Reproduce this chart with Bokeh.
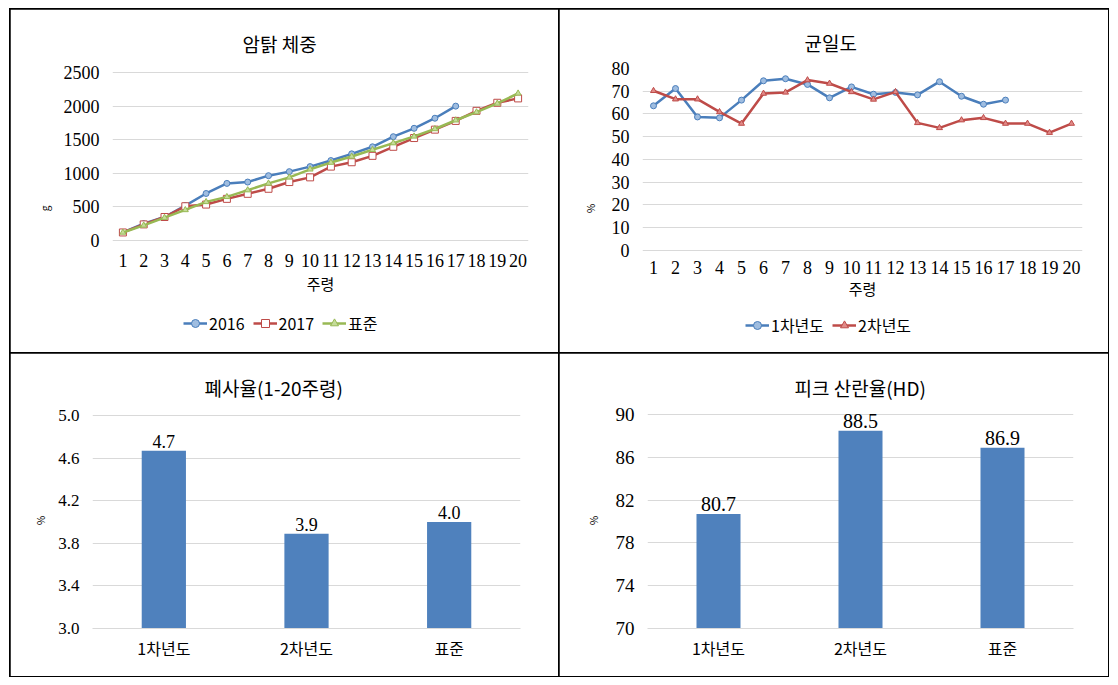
from bokeh.plotting import figure
from bokeh.models import (Range1d, FactorRange, FixedTicker, Legend, LegendItem, Label,
                          ColumnDataSource, LabelSet, NumeralTickFormatter, Spacer)
from bokeh.layouts import row, column
from bokeh.embed import file_html
from bokeh.resources import INLINE

# ---------------- data ----------------
weeks = [1, 2, 3, 4, 5, 6, 7, 8, 9, 10,
         11, 12, 13, 14, 15, 16, 17, 18, 19, 20]

bw_2016 = [120, 250, 350, 520, 700, 850, 870, 965, 1025, 1100,
           1190, 1290, 1395, 1545, 1670, 1820, 2000]
bw_2017 = [120, 240, 350, 510, 535, 620, 695, 770, 870, 940,
           1100, 1165, 1260, 1395, 1525, 1650, 1780, 1930, 2050, 2115]
bw_std = [120, 225, 340, 455, 575, 650, 750, 850, 940, 1060,
          1160, 1250, 1350, 1450, 1550, 1660, 1790, 1910, 2040, 2190]

unif_y1 = [63.6, 71.2, 58.7, 58.3, 66.1, 74.6, 75.5, 73.0, 67.1, 71.9,
           68.7, 69.5, 68.4, 74.2, 67.8, 64.3, 66.1]
unif_y2 = [70.2, 66.5, 66.5, 60.9, 55.8, 69.0, 69.5, 74.9, 73.4, 69.7,
           66.4, 69.7, 56.1, 53.9, 57.3, 58.3, 55.8, 55.8, 51.8, 55.8]

bar_cats = ["1차년도", "2차년도", "표준"]
mortality = [4.67, 3.89, 4.00]
peak_lay = [80.7, 88.5, 86.9]

bw_ticks = [0, 500, 1000, 1500, 2000, 2500]
unif_ticks = [0, 10, 20, 30, 40, 50, 60, 70, 80]
mort_ticks = [3.0, 3.4, 3.8, 4.2, 4.6, 5.0]
peak_ticks = [70, 74, 78, 82, 86, 90]

# ---------------- style ----------------
NUM = "Liberation Serif"
KR = "Noto Sans CJK KR"
BLUE = "#4a7ebb"
RED = "#be4b48"
GREEN = "#98b954"
GRID = "#d9d9d9"
CELL = {"outline": "2px solid black", "outline-offset": "-1px"}


def base(w, h, left, right, top, bottom, x_range, y_range, title, t_off, t_stand,
         x_axis=True):
    p = figure(width=w, height=h, x_range=x_range, y_range=y_range,
               output_backend="svg", toolbar_location=None,
               x_axis_location="below" if x_axis else None,
               min_border_left=left, min_border_right=right,
               min_border_top=top, min_border_bottom=bottom)
    p.styles = CELL
    p.outline_line_color = None
    p.title.text = title
    p.title.align = "left"
    p.title.offset = t_off
    p.title.standoff = t_stand
    p.title.text_font = KR
    p.title.text_font_size = "19px"
    p.title.text_font_style = "normal"
    p.title.text_color = "black"
    p.xgrid.grid_line_color = None
    p.ygrid.grid_line_color = GRID
    p.yaxis.axis_line_color = None
    p.yaxis.major_tick_line_color = None
    p.yaxis.minor_tick_line_color = None
    p.yaxis.major_label_text_font = NUM
    p.yaxis.major_label_text_color = "black"
    p.yaxis.axis_label_text_font = KR
    p.yaxis.axis_label_text_font_style = "normal"
    p.yaxis.axis_label_text_color = "black"
    p.yaxis.axis_label_text_font_size = "10px"
    p.yaxis.major_label_standoff = 7
    if x_axis:
        p.xaxis.axis_line_color = GRID
        p.xaxis.major_tick_line_color = None
        p.xaxis.minor_tick_line_color = None
        p.xaxis.major_label_text_font = KR
        p.xaxis.major_label_text_color = "black"
    return p


def week_labels(p, label_off, title_off):
    src = ColumnDataSource(dict(x=weeks, y=[0] * len(weeks),
                                lab=[str(w) for w in weeks]))
    p.add_layout(LabelSet(x="x", y="y", text="lab", source=src,
                          text_align="center", text_baseline="middle",
                          y_offset=label_off, text_font=NUM,
                          text_font_size="18px", text_color="black"))
    p.add_layout(Label(x=(weeks[0] + weeks[-1]) / 2, y=0, y_offset=title_off,
                       text="주령", text_align="center", text_baseline="middle",
                       text_font=KR, text_font_size="15px", text_color="black"))


def add_legend(p, items, x_off, y_off):
    leg = Legend(items=items, orientation="horizontal", location=(x_off, y_off),
                 label_text_font=KR, label_text_font_size="16px",
                 label_text_color="black",
                 glyph_width=24, label_standoff=2, spacing=8,
                 border_line_color=None, background_fill_alpha=0,
                 margin=0, padding=2)
    p.add_layout(leg)


# ---------- chart 1: body weight ----------
p1 = base(549, 344, 102, 31, 59, 5,
          Range1d(weeks[0] - 0.5, weeks[-1] + 0.5), Range1d(-1607, 2560),
          "암탉 체중", 130, 24, x_axis=False)
p1.yaxis.ticker = FixedTicker(ticks=bw_ticks)
p1.yaxis.major_label_text_font_size = "18px"
p1.yaxis.axis_label = "g"
p1.yaxis.axis_label_standoff = 9
week_labels(p1, -20, -43)

x16 = weeks[:len(bw_2016)]
l_a = p1.line(x16, bw_2016, line_color=BLUE, line_width=2.5)
m_a = p1.scatter(x16, bw_2016, marker="circle", size=6,
                 line_color=BLUE, fill_color="#9fbde0", line_width=1)
l_b = p1.line(weeks, bw_2017, line_color=RED, line_width=2.5)
m_b = p1.scatter(weeks, bw_2017, marker="square", size=7,
                 line_color=RED, fill_color="white", line_width=1)
l_c = p1.line(weeks, bw_std, line_color=GREEN, line_width=2.5)
m_c = p1.scatter(weeks, bw_std, marker="triangle", size=6,
                 line_color=GREEN, fill_color="#c5dc9a", line_width=1)
add_legend(p1, [LegendItem(label="2016", renderers=[l_a, m_a]),
                LegendItem(label="2017", renderers=[l_b, m_b]),
                LegendItem(label="표준", renderers=[l_c, m_c])], 71, 13)

# ---------- chart 2: uniformity ----------
p2 = base(549, 344, 83, 26, 59, 5,
          Range1d(weeks[0] - 0.5, weeks[-1] + 0.5), Range1d(-43.1, 80),
          "균일도", 162, 25, x_axis=False)
p2.yaxis.ticker = FixedTicker(ticks=unif_ticks)
p2.yaxis.major_label_text_font_size = "18px"
p2.yaxis.axis_label = "%"
p2.yaxis.axis_label_standoff = 11
week_labels(p2, -17, -38)

x1 = weeks[:len(unif_y1)]
l_d = p2.line(x1, unif_y1, line_color=BLUE, line_width=2.5)
m_d = p2.scatter(x1, unif_y1, marker="circle", size=6,
                 line_color=BLUE, fill_color="#9fbde0", line_width=1)
l_e = p2.line(weeks, unif_y2, line_color=RED, line_width=2.5)
m_e = p2.scatter(weeks, unif_y2, marker="triangle", size=6,
                 line_color=RED, fill_color="#e08a88", line_width=1)
add_legend(p2, [LegendItem(label="1차년도", renderers=[l_d, m_d]),
                LegendItem(label="2차년도", renderers=[l_e, m_e])], 103, 11)


# ---------- bar charts ----------
def bar_chart(values, ticks, y_end, title, t_off, left, right,
              fmt, tsize, lsize, ylab_standoff):
    p = base(549, 323, left, right, 59, 48,
             FactorRange(factors=bar_cats, range_padding=0),
             Range1d(ticks[0], y_end), title, t_off, 23)
    p.yaxis.ticker = FixedTicker(ticks=ticks)
    p.yaxis.formatter = NumeralTickFormatter(format=fmt)
    p.yaxis.major_label_text_font_size = tsize
    p.xaxis.major_label_text_font_size = "16px"
    p.xaxis.major_label_standoff = 1
    p.yaxis.axis_label = "%"
    p.yaxis.axis_label_standoff = ylab_standoff
    src = ColumnDataSource(dict(cat=bar_cats, val=values,
                                base=[ticks[0]] * len(values),
                                lab=[f"{v:.1f}" for v in values]))
    p.vbar(x="cat", top="val", bottom="base", width=0.31, source=src,
           fill_color="#4f81bd", line_color=None)
    p.add_layout(LabelSet(x="cat", y="val", text="lab", source=src,
                          text_align="center", text_baseline="bottom",
                          y_offset=3, text_font=NUM, text_font_size=lsize,
                          text_color="black"))
    return p


p3 = bar_chart(mortality, mort_ticks, 5.03, "폐사율(1-20주령)", 112,
               82, 39, "0.0", "17px", "18px", 7)
p4 = bar_chart(peak_lay, peak_ticks, 90.2, "피크 산란율(HD)", 147,
               88, 35, "0", "19px", "20px", 12)

layout = column(Spacer(height=9),
                row(Spacer(width=10), p1, p2),
                row(Spacer(width=10), p3, p4))

open("out.html", "w").write(file_html(layout, INLINE))
